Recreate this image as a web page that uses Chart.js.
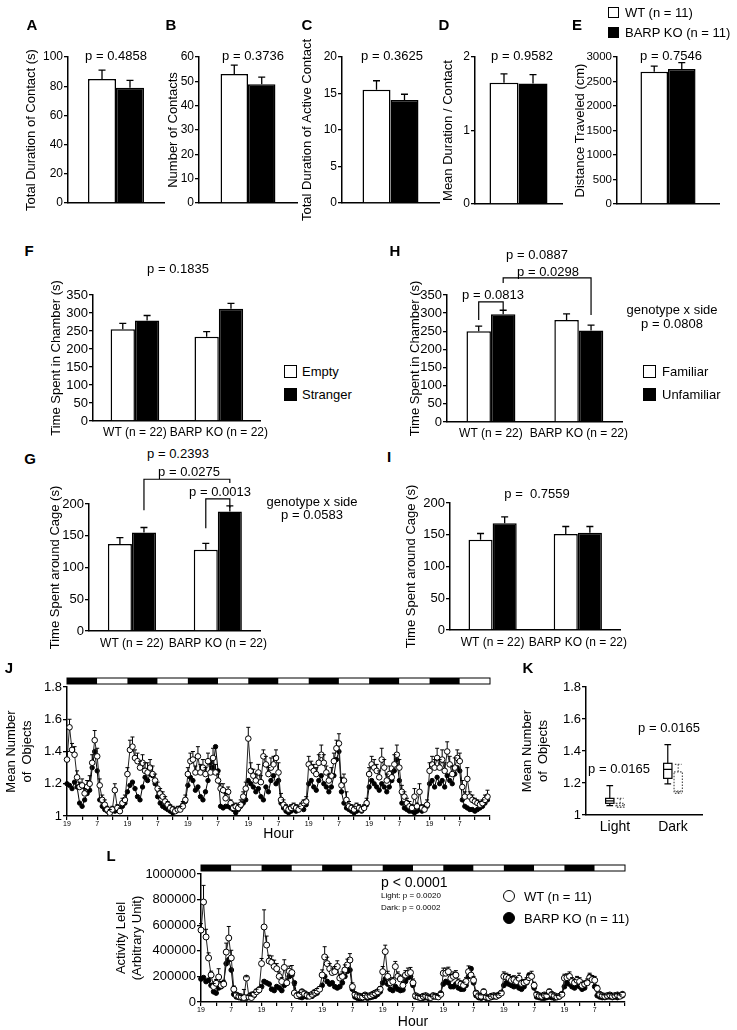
<!DOCTYPE html>
<html>
<head>
<meta charset="utf-8">
<script src="https://cdn.jsdelivr.net/npm/chart.js@4.4.1/dist/chart.umd.min.js"></script>
<style>
html, body { margin: 0; padding: 0; background: #fff; }
#page { position: relative; width: 737px; height: 1030px; overflow: hidden; background: #fff; }
canvas { position: absolute; }
</style>
</head>
<body>
<div id="page"></div>
<script>
// panels A-E : WT vs BARP KO
const groupNames = ['WT (n = 11)', 'BARP KO (n = 11)'];
const contactDur = [85, 79];       const contactDurErr = [6, 5];
const contactNum = [53, 48.8];     const contactNumErr = [3.7, 2.9];
const activeDur = [15.5, 14.1];    const activeDurErr = [1.25, 0.8];
const meanDur = [1.65, 1.64];      const meanDurErr = [0.12, 0.12];
const distance = [2700, 2755];     const distanceErr = [115, 130];

// panels F-I : genotype groups, two sides each
const genotypes = ['WT (n = 22)', 'BARP KO (n = 22)'];
const chamberEmpty = [255, 234];   const chamberEmptyErr = [16, 14];
const chamberStranger = [279, 312]; const chamberStrangerErr = [14, 15];
const cageEmpty = [137, 128];      const cageEmptyErr = [10, 10];
const cageStranger = [155, 188];   const cageStrangerErr = [8, 9];
const chamberFam = [250, 281];     const chamberFamErr = [14, 17];
const chamberUnfam = [297, 252];   const chamberUnfamErr = [11, 15];
const cageFam = [142, 151];        const cageFamErr = [10, 12];
const cageUnfam = [168, 153];      const cageUnfamErr = [10, 10];

// panel J : hourly mean number of objects (7 days from 19:00)
const jWT = [
  1.35,1.55,1.41,1.38,1.24,1.18,1.19,1.14,1.18,1.20,1.33,1.47,1.37,1.19,1.10,1.07,1.04,1.02,1.04,1.16,1.05,1.03,1.08,1.10,
  1.26,1.41,1.43,1.36,1.34,1.30,1.33,1.28,1.27,1.30,1.26,1.22,1.17,1.14,1.12,1.09,1.07,1.05,1.04,1.03,1.04,1.04,1.06,1.10,
  1.26,1.34,1.35,1.27,1.37,1.27,1.30,1.26,1.34,1.27,1.36,1.27,1.22,1.17,1.16,1.11,1.15,1.08,1.05,1.06,1.05,1.07,1.12,1.17,
  1.48,1.28,1.25,1.22,1.27,1.21,1.37,1.32,1.26,1.30,1.32,1.36,1.27,1.10,1.07,1.05,1.04,1.05,1.06,1.05,1.04,1.06,1.08,1.09,
  1.32,1.30,1.28,1.26,1.33,1.38,1.33,1.27,1.22,1.25,1.34,1.42,1.45,1.19,1.22,1.10,1.06,1.05,1.04,1.06,1.05,1.04,1.05,1.08,
  1.26,1.32,1.30,1.28,1.24,1.35,1.30,1.22,1.26,1.24,1.32,1.38,1.30,1.15,1.12,1.08,1.06,1.05,1.12,1.06,1.15,1.05,1.04,1.07,
  1.28,1.32,1.30,1.36,1.30,1.35,1.28,1.40,1.32,1.26,1.30,1.36,1.34,1.18,1.12,1.23,1.12,1.10,1.09,1.08,1.07,1.08,1.10,1.12
];
const jWTErr = [
  .05,.05,.04,.05,.04,.03,.04,.03,.04,.05,.05,.06,.05,.04,.03,.03,.02,.02,.02,.04,.02,.02,.03,.03,
  .04,.06,.06,.05,.05,.04,.05,.05,.06,.05,.05,.04,.04,.03,.03,.03,.02,.02,.02,.02,.02,.02,.03,.03,
  .04,.05,.05,.04,.06,.05,.05,.04,.05,.04,.06,.05,.04,.03,.04,.03,.03,.02,.02,.02,.02,.03,.03,.04,
  .07,.05,.04,.04,.05,.04,.04,.05,.04,.06,.05,.05,.06,.04,.03,.02,.02,.02,.02,.02,.02,.02,.02,.03,
  .05,.04,.04,.04,.05,.06,.05,.04,.04,.05,.05,.05,.06,.05,.04,.05,.03,.02,.02,.02,.02,.02,.02,.03,
  .04,.05,.05,.04,.04,.07,.05,.04,.05,.04,.06,.06,.05,.04,.03,.03,.03,.02,.05,.02,.05,.02,.02,.03,
  .05,.05,.05,.06,.05,.06,.05,.06,.05,.05,.06,.05,.05,.04,.03,.07,.03,.03,.02,.02,.02,.02,.03,.04
];
const jKO = [
  1.20,1.19,1.17,1.21,1.18,1.08,1.06,1.10,1.14,1.16,1.30,1.40,1.28,1.10,1.06,1.04,1.03,1.03,1.04,1.03,1.04,1.05,1.06,1.08,
  1.15,1.19,1.21,1.17,1.12,1.10,1.18,1.24,1.22,1.26,1.25,1.20,1.12,1.08,1.06,1.05,1.04,1.03,1.02,1.03,1.04,1.05,1.07,1.09,
  1.19,1.24,1.22,1.16,1.18,1.12,1.10,1.15,1.22,1.33,1.30,1.43,1.28,1.06,1.05,1.06,1.06,1.05,1.04,1.02,1.04,1.06,1.08,1.10,
  1.22,1.20,1.18,1.15,1.17,1.12,1.10,1.18,1.15,1.22,1.25,1.20,1.22,1.08,1.05,1.03,1.02,1.03,1.04,1.03,1.04,1.05,1.04,1.07,
  1.20,1.22,1.18,1.16,1.22,1.25,1.20,1.18,1.15,1.18,1.25,1.35,1.40,1.15,1.08,1.05,1.04,1.03,1.02,1.03,1.04,1.03,1.05,1.07,
  1.18,1.22,1.20,1.18,1.16,1.20,1.18,1.15,1.18,1.22,1.28,1.35,1.22,1.08,1.05,1.04,1.03,1.03,1.02,1.03,1.04,1.03,1.04,1.06,
  1.20,1.22,1.18,1.24,1.20,1.22,1.18,1.25,1.22,1.20,1.26,1.30,1.28,1.10,1.06,1.05,1.04,1.04,1.03,1.04,1.05,1.06,1.08,1.10
];

// panel K : box plots (light / dark phase)
const kLabels = ['Light', 'Dark'];
const kWTmin = [1.058, 1.194], kWTq1 = [1.073, 1.229], kWTmed = [1.088, 1.285], kWTq3 = [1.104, 1.323], kWTmax = [1.183, 1.44];
const kKOmin = [1.048, 1.135], kKOq1 = [1.05, 1.146], kKOmed = [1.06, 1.15], kKOq3 = [1.073, 1.27], kKOmax = [1.104, 1.317];

// panel L : hourly activity level
const lWT = [
  562000,781000,508000,344000,211000,120000,146000,195000,130000,140000,390000,500000,344000,100000,55000,45000,40000,35000,187000,40000,35000,60000,80000,95000,
  300000,586000,445000,320000,310000,277000,260000,200000,160000,270000,150000,240000,230000,70000,50000,60000,80000,65000,55000,45000,60000,75000,85000,100000,
  211000,352000,300000,260000,230000,237000,277000,187000,200000,250000,290000,328000,120000,60000,50000,45000,40000,55000,45000,50000,60000,70000,80000,100000,
  237000,394000,200000,150000,160000,277000,200000,180000,130000,210000,225000,230000,150000,50000,40000,35000,45000,50000,40000,35000,50000,45000,40000,60000,
  225000,225000,237000,185000,200000,210000,150000,140000,130000,160000,237000,210000,170000,70000,50000,45000,80000,40000,35000,45000,50000,45000,55000,70000,
  200000,195000,185000,170000,175000,160000,185000,145000,150000,160000,190000,200000,130000,60000,50000,45000,55000,50000,80000,60000,50000,40000,45000,60000,
  187000,190000,200000,160000,150000,170000,160000,130000,140000,150000,190000,175000,170000,105000,60000,50000,45000,50000,55000,45000,50000,55000,45000,60000
];
const lWTErr = [
  50000,130000,60000,40000,30000,25000,30000,65000,30000,30000,70000,90000,60000,25000,15000,10000,10000,63000,10000,10000,12000,15000,20000,20000,
  40000,134000,70000,45000,50000,50000,40000,35000,30000,60000,30000,40000,55000,60000,20000,15000,15000,20000,15000,12000,10000,15000,20000,20000,
  40000,80000,50000,40000,35000,40000,45000,30000,35000,40000,45000,50000,30000,15000,12000,10000,10000,12000,10000,12000,15000,15000,15000,20000,
  40000,50000,40000,30000,30000,40000,35000,30000,25000,35000,40000,40000,30000,12000,10000,10000,12000,12000,10000,10000,12000,12000,10000,15000,
  40000,40000,35000,30000,35000,35000,30000,25000,25000,30000,45000,40000,30000,15000,12000,10000,20000,10000,10000,12000,12000,10000,12000,15000,
  35000,30000,30000,30000,30000,30000,40000,25000,25000,30000,35000,40000,25000,15000,12000,10000,12000,12000,20000,12000,12000,10000,10000,15000,
  30000,30000,35000,30000,25000,30000,30000,25000,25000,30000,35000,30000,30000,25000,12000,10000,10000,12000,12000,10000,12000,12000,10000,15000
];
const lKO = [
  180000,190000,160000,170000,130000,80000,70000,110000,120000,150000,300000,330000,250000,60000,40000,35000,30000,40000,30000,45000,60000,50000,80000,90000,
  120000,160000,150000,140000,100000,90000,120000,110000,90000,130000,150000,200000,210000,150000,50000,40000,35000,45000,40000,50000,45000,60000,70000,100000,
  130000,200000,160000,140000,150000,120000,110000,120000,150000,200000,240000,250000,100000,40000,30000,25000,30000,35000,30000,35000,40000,45000,60000,80000,
  150000,180000,140000,100000,90000,120000,100000,90000,95000,160000,190000,200000,130000,40000,35000,30000,30000,35000,30000,35000,40000,40000,50000,70000,
  140000,160000,150000,120000,120000,140000,110000,100000,100000,130000,200000,260000,150000,50000,35000,30000,40000,30000,30000,35000,40000,40000,50000,70000,
  130000,150000,140000,130000,120000,130000,110000,100000,120000,150000,210000,200000,110000,40000,35000,30000,30000,35000,40000,35000,30000,35000,40000,60000,
  120000,150000,140000,120000,110000,130000,120000,100000,110000,150000,200000,190000,120000,50000,40000,35000,35000,40000,40000,35000,40000,35000,45000,50000
];

// light/dark cycle: 12 h dark then 12 h light, starting at 19:00
const cycle = ['dark', 'light'];
const phaseHours = 12;

const FONT = "'Liberation Sans', Arial, Helvetica, sans-serif";
Chart.defaults.font.family = FONT;
Chart.defaults.font.size = 13;
Chart.defaults.color = '#000';
Chart.defaults.animation = false;
Chart.defaults.plugins.legend.display = false;
Chart.defaults.plugins.tooltip.enabled = false;

const page = document.getElementById('page');

// error bars (upwards only) for bars and points
const errorBars = {
  id: 'errorBars',
  afterDatasetsDraw(chart) {
    const ctx = chart.ctx;
    const y = chart.scales.y;
    chart.data.datasets.forEach((ds, i) => {
      if (!ds.errors) return;
      const meta = chart.getDatasetMeta(i);
      meta.data.forEach((el, j) => {
        const d = ds.data[j];
        const v = typeof d === 'object' ? d.y : d;
        const top = y.getPixelForValue(v + ds.errors[j]);
        const c = ds.capSize || 3.5;
        ctx.save();
        ctx.strokeStyle = '#000';
        ctx.lineWidth = ds.errWidth || 1.3;
        ctx.beginPath();
        ctx.moveTo(el.x, el.y - (ds.errStart || 0));
        ctx.lineTo(el.x, top);
        ctx.moveTo(el.x - c, top);
        ctx.lineTo(el.x + c, top);
        ctx.stroke();
        ctx.restore();
      });
    });
  }
};

// significance brackets, in data units
const bracketSpecs = {
  G: [
    { from: [1, 0], to: [1, 1], top: 239, legFrom: 190, legTo: 233 },
    { from: [0, 1], to: [1, 1], top: 208, legFrom: 162, legTo: 194 }
  ],
  H: [
    { from: [1, 0], to: [1, 1], top: 397, legFrom: 383, legTo: 295 },
    { from: [0, 0], to: [1, 0], top: 331, legFrom: 281, legTo: 309 }
  ]
};
const brackets = {
  id: 'brackets',
  afterDraw(chart) {
    const specs = bracketSpecs[chart.canvas.id];
    if (!specs) return;
    const ctx = chart.ctx, y = chart.scales.y;
    specs.forEach(b => {
      const x1 = chart.getDatasetMeta(b.from[0]).data[b.from[1]].x;
      const x2 = chart.getDatasetMeta(b.to[0]).data[b.to[1]].x;
      const yt = y.getPixelForValue(b.top);
      ctx.save();
      ctx.strokeStyle = '#000';
      ctx.lineWidth = 1.2;
      ctx.beginPath();
      ctx.moveTo(x1, y.getPixelForValue(b.legFrom));
      ctx.lineTo(x1, yt);
      ctx.lineTo(x2, yt);
      ctx.lineTo(x2, y.getPixelForValue(b.legTo));
      ctx.stroke();
      ctx.restore();
    });
  }
};

// dark/light bar above the time courses
const phaseBar = {
  id: 'phaseBar',
  afterDraw(chart) {
    if (!chart.canvas.dataset.phase) return;
    const ctx = chart.ctx, x = chart.scales.x;
    const top = chart.chartArea.top - 9, h = 6;
    ctx.save();
    for (let k = 0; k * phaseHours < x.max; k++) {
      const x0 = x.getPixelForValue(k * phaseHours);
      const x1 = x.getPixelForValue(Math.min((k + 1) * phaseHours, x.max));
      ctx.fillStyle = cycle[k % 2] === 'dark' ? '#000' : '#fff';
      ctx.fillRect(x0, top, x1 - x0, h);
    }
    ctx.strokeStyle = '#000';
    ctx.lineWidth = 1;
    ctx.strokeRect(x.getPixelForValue(x.min), top, x.getPixelForValue(x.max) - x.getPixelForValue(x.min), h);
    ctx.restore();
  }
};

// whiskers, medians and outlines for the box plot
const boxPlot = {
  id: 'boxPlot',
  afterDatasetsDraw(chart) {
    const ctx = chart.ctx, y = chart.scales.y;
    chart.data.datasets.forEach((ds, i) => {
      if (!ds.box) return;
      const b = ds.box;
      chart.getDatasetMeta(i).data.forEach((el, j) => {
        const half = el.width / 2, cx = el.x;
        const yq1 = y.getPixelForValue(b.q1[j]), yq3 = y.getPixelForValue(b.q3[j]);
        const ymin = y.getPixelForValue(b.min[j]), ymax = y.getPixelForValue(b.max[j]);
        const ymed = y.getPixelForValue(b.med[j]);
        ctx.save();
        ctx.strokeStyle = ds.dashed ? '#555' : '#000';
        ctx.lineWidth = 1.2;
        ctx.setLineDash(ds.dashed ? [1.5, 1.5] : []);
        ctx.strokeRect(cx - half, yq3, half * 2, yq1 - yq3);
        ctx.beginPath();
        ctx.moveTo(cx - half, ymed); ctx.lineTo(cx + half, ymed);
        ctx.moveTo(cx, yq3); ctx.lineTo(cx, ymax);
        ctx.moveTo(cx, yq1); ctx.lineTo(cx, ymin);
        ctx.moveTo(cx - half * 0.8, ymax); ctx.lineTo(cx + half * 0.8, ymax);
        ctx.moveTo(cx - half * 0.8, ymin); ctx.lineTo(cx + half * 0.8, ymin);
        ctx.stroke();
        ctx.restore();
      });
    });
  }
};

Chart.register(errorBars, brackets, phaseBar, boxPlot);

// place a chart so that its plot area lands on "area" (page pixels)
function panel(id, area, titleX, padB, cfg) {
  const lh = 13 * 1.2;
  const left = Math.round(titleX - lh / 2 - 2);
  const padL = area.l - left, padT = 30, padR = 12;
  const w = area.r - area.l + padL + padR;
  const h = area.b - area.t + padT + padB;
  const cv = document.createElement('canvas');
  cv.id = id;
  cv.width = w; cv.height = h;
  cv.style.left = left + 'px';
  cv.style.top = (area.t - padT) + 'px';
  cv.style.width = w + 'px';
  cv.style.height = h + 'px';
  if (cfg.phase) cv.dataset.phase = '1';
  page.appendChild(cv);
  cfg.options.responsive = false;
  cfg.options.events = [];
  cfg.options.layout = { padding: { left: 0, top: padT, right: padR, bottom: 0 } };
  cfg.options.scales.x.afterFit = s => { s.height = padB; };
  cfg.options.scales.y.afterFit = s => { s.width = padL; };
  return new Chart(cv, cfg);
}

function yAxis(title, min, max, step, tickSize) {
  return {
    min: min, max: max,
    ticks: { stepSize: step, padding: 1, autoSkip: false, font: { size: tickSize || 13 }, callback: v => String(+v.toFixed(2)) },
    grid: { drawOnChartArea: false, drawTicks: true, tickLength: 4, color: '#000', lineWidth: 1.3 },
    border: { display: true, color: '#000', width: 1.5 },
    title: { display: true, text: title, font: { size: 13 }, padding: { top: 2, bottom: 0 } }
  };
}

function catAxis(show, pad, size) {
  return {
    type: 'category', offset: true,
    ticks: { display: show, padding: pad, autoSkip: false, maxRotation: 0, font: { size: size || 12 } },
    grid: { drawOnChartArea: false, drawTicks: false },
    border: { display: true, color: '#000', width: 1.5 }
  };
}

function barSet(label, data, err, color, catPct) {
  return {
    label: label, data: data, errors: err,
    backgroundColor: color, borderColor: '#000', borderWidth: 1.5,
    barPercentage: 1, categoryPercentage: catPct
  };
}

// A-E: one group, WT (white) next to KO (black)
function twoBar(id, area, titleX, title, vals, errs, max, step, catPct, tickSize) {
  panel(id, area, titleX, 28, {
    type: 'bar',
    data: {
      labels: [''],
      datasets: [
        barSet(groupNames[0], [vals[0]], [errs[0]], '#fff', catPct),
        barSet(groupNames[1], [vals[1]], [errs[1]], '#000', catPct)
      ]
    },
    options: { scales: { x: catAxis(false, 0), y: yAxis(title, 0, max, step, tickSize || 12) } }
  });
}

twoBar('A', { l: 68, t: 57, r: 164, b: 203 }, 32, 'Total Duration of Contact (s)', contactDur, contactDurErr, 100, 20, 0.583);
twoBar('B', { l: 199, t: 57, r: 297, b: 203 }, 174, 'Number of Contacts', contactNum, contactNumErr, 60, 10, 0.56);
twoBar('C', { l: 342, t: 57, r: 439, b: 203 }, 308, 'Total Duration of Active Contact', activeDur, activeDurErr, 20, 5, 0.577);
twoBar('D', { l: 475, t: 57, r: 562, b: 204 }, 449, 'Mean Duration / Contact', meanDur, meanDurErr, 2, 1, 0.667);
twoBar('E', { l: 617, t: 57, r: 719, b: 204 }, 581, 'Distance Traveled (cm)', distance, distanceErr, 3000, 500, 0.54, 11.5);

// F-I: two genotypes, two sides
function groupBar(id, area, titleX, title, names, a, aErr, b, bErr, max, step, catPct, tickPad) {
  panel(id, area, titleX, 22, {
    type: 'bar',
    data: {
      labels: genotypes,
      datasets: [
        barSet(names[0], a, aErr, '#fff', catPct),
        barSet(names[1], b, bErr, '#000', catPct)
      ]
    },
    options: { scales: { x: catAxis(true, tickPad), y: yAxis(title, 0, max, step, 13) } }
  });
}

groupBar('F', { l: 93, t: 295, r: 263, b: 421 }, 57, 'Time Spent in Chamber (s)', ['Empty', 'Stranger'],
  chamberEmpty, chamberEmptyErr, chamberStranger, chamberStrangerErr, 350, 50, 0.58, 4);
groupBar('H', { l: 447, t: 295, r: 623, b: 422 }, 416, 'Time Spent in Chamber (s)', ['Familiar', 'Unfamiliar'],
  chamberFam, chamberFamErr, chamberUnfam, chamberUnfamErr, 350, 50, 0.557, 4);
groupBar('G', { l: 89, t: 504, r: 263, b: 631 }, 56, 'Time Spent around Cage (s)', ['Empty', 'Stranger'],
  cageEmpty, cageEmptyErr, cageStranger, cageStrangerErr, 200, 50, 0.56, 5);
groupBar('I', { l: 450, t: 503, r: 623, b: 630 }, 412, 'Time Spent around Cage (s)', ['Familiar', 'Unfamiliar'],
  cageFam, cageFamErr, cageUnfam, cageUnfamErr, 200, 50, 0.566, 5);

// J and L: time courses
function hourAxis() {
  return {
    type: 'linear', min: 0, max: 168,
    ticks: {
      stepSize: 6, autoSkip: false, maxRotation: 0, padding: 0, font: { size: 7 },
      callback: v => (v % 24 === 0 && v < 168) ? '19' : (v % 24 === 12 ? '7' : '')
    },
    grid: { drawOnChartArea: false, drawTicks: true, tickLength: 4, color: '#000', lineWidth: 1.2 },
    border: { display: true, color: '#000', width: 1.5 },
    title: { display: true, text: 'Hour', font: { size: 14 }, padding: { top: 0, bottom: 0 } }
  };
}

function lineSets(wt, wtErr, ko, r) {
  return [
    {
      label: 'WT (n = 11)', data: wt.map((v, i) => ({ x: i, y: v })), errors: wtErr,
      errStart: r, capSize: 2, errWidth: 1,
      borderColor: '#222', borderWidth: 1, tension: 0,
      pointRadius: r, pointBackgroundColor: '#fff', pointBorderColor: '#000', pointBorderWidth: 1,
      order: 0, clip: false
    },
    {
      label: 'BARP KO (n = 11)', data: ko.map((v, i) => ({ x: i, y: v })),
      borderColor: '#000', borderWidth: 1, tension: 0,
      pointRadius: r - 0.6, pointBackgroundColor: '#000', pointBorderColor: '#000', pointBorderWidth: 1,
      order: 1, clip: false
    }
  ];
}

panel('J', { l: 67, t: 687, r: 490, b: 816 }, 12, 27, {
  type: 'line', phase: true,
  data: { datasets: lineSets(jWT, jWTErr, jKO, 2.8) },
  options: { scales: { x: hourAxis(), y: yAxis(['Mean Number', 'of  Objects'], 1, 1.8, 0.2, 13) } }
});

panel('L', { l: 201, t: 874, r: 625, b: 1002 }, 122, 29, {
  type: 'line', phase: true,
  data: { datasets: lineSets(lWT, lWTErr, lKO, 3) },
  options: { scales: { x: hourAxis(), y: yAxis(['Activity Lelel', '(Arbitrary Unit)'], 0, 1000000, 200000, 13) } }
});

// K: box plot
function boxSet(label, q1, q3, min, med, max, dashed) {
  return {
    label: label,
    data: q1.map((v, j) => [v, q3[j]]),
    box: { q1: q1, q3: q3, min: min, med: med, max: max }, dashed: dashed,
    backgroundColor: 'rgba(255,255,255,0)', borderWidth: 0,
    barPercentage: 0.8, categoryPercentage: 0.36
  };
}
panel('K', { l: 586, t: 687, r: 702, b: 815 }, 528, 24, {
  type: 'bar',
  data: {
    labels: kLabels,
    datasets: [
      boxSet('WT (n = 11)', kWTq1, kWTq3, kWTmin, kWTmed, kWTmax, false),
      boxSet('BARP KO (n = 11)', kKOq1, kKOq3, kKOmin, kKOmed, kKOmax, true)
    ]
  },
  options: { scales: { x: catAxis(true, 4, 14), y: yAxis(['Mean Number', 'of  Objects'], 1, 1.8, 0.2, 13) } }
});

// text annotations
function txt(s, x, y, size, opt) {
  opt = opt || {};
  const d = document.createElement('div');
  d.textContent = s;
  d.style.cssText = 'position:absolute;left:' + x + 'px;top:' + y + 'px;font:' + (opt.bold ? 'bold ' : '') +
    size + 'px ' + FONT + ';line-height:1;white-space:pre;color:#000;transform:translate(' +
    (opt.left ? '0' : '-50%') + ',-50%)';
  page.appendChild(d);
}
function swatch(x, y, size, fill, round) {
  const d = document.createElement('div');
  d.style.cssText = 'position:absolute;left:' + (x - size / 2) + 'px;top:' + (y - size / 2) + 'px;width:' + size +
    'px;height:' + size + 'px;box-sizing:border-box;border:1.3px solid #000;background:' + fill +
    (round ? ';border-radius:50%' : '');
  page.appendChild(d);
}

[['A', 32, 24], ['B', 171, 24], ['C', 307, 24], ['D', 444, 24], ['E', 577, 24],
 ['F', 29, 250], ['H', 395, 250], ['G', 30, 458], ['I', 389, 456],
 ['J', 9, 667], ['K', 528, 667], ['L', 111, 855]].forEach(p => txt(p[0], p[1], p[2], 15, { bold: true }));

txt('p = 0.4858', 116, 55, 13);
txt('p = 0.3736', 253, 55, 13);
txt('p = 0.3625', 392, 55, 13);
txt('p = 0.9582', 522, 55, 13);
txt('p = 0.7546', 671, 55, 13);

swatch(613, 12, 11, '#fff');
swatch(613, 32, 11, '#000');
txt(groupNames[0], 625, 12, 13, { left: true });
txt(groupNames[1], 625, 32, 13, { left: true });

txt('p = 0.1835', 178, 268, 13);
swatch(290, 371, 13, '#fff'); txt('Empty', 302, 371, 13, { left: true });
swatch(290, 394, 13, '#000'); txt('Stranger', 302, 394, 13, { left: true });

txt('p = 0.0887', 537, 254, 13);
txt('p = 0.0298', 548, 271, 13);
txt('p = 0.0813', 493, 294, 13);
txt('genotype x side', 672, 309, 13);
txt('p = 0.0808', 672, 323, 13);
swatch(649, 371, 13, '#fff'); txt('Familiar', 662, 371, 13, { left: true });
swatch(649, 394, 13, '#000'); txt('Unfamiliar', 662, 394, 13, { left: true });

txt('p = 0.2393', 178, 453, 13);
txt('p = 0.0275', 189, 471, 13);
txt('p = 0.0013', 220, 491, 13);
txt('genotype x side', 312, 501, 13);
txt('p = 0.0583', 312, 514, 13);

txt('p =  0.7559', 537, 493, 13);

txt('p = 0.0165', 619, 768, 13);
txt('p = 0.0165', 669, 727, 13);

txt('p < 0.0001', 381, 882, 14, { left: true });
txt('Light: p = 0.0020', 381, 896, 8, { left: true });
txt('Dark: p = 0.0002', 381, 908, 8, { left: true });
swatch(509, 896, 12, '#fff', true);
swatch(509, 918, 12, '#000', true);
txt('WT (n = 11)', 524, 896, 13, { left: true });
txt('BARP KO (n = 11)', 524, 918, 13, { left: true });
</script>
</body>
</html>
